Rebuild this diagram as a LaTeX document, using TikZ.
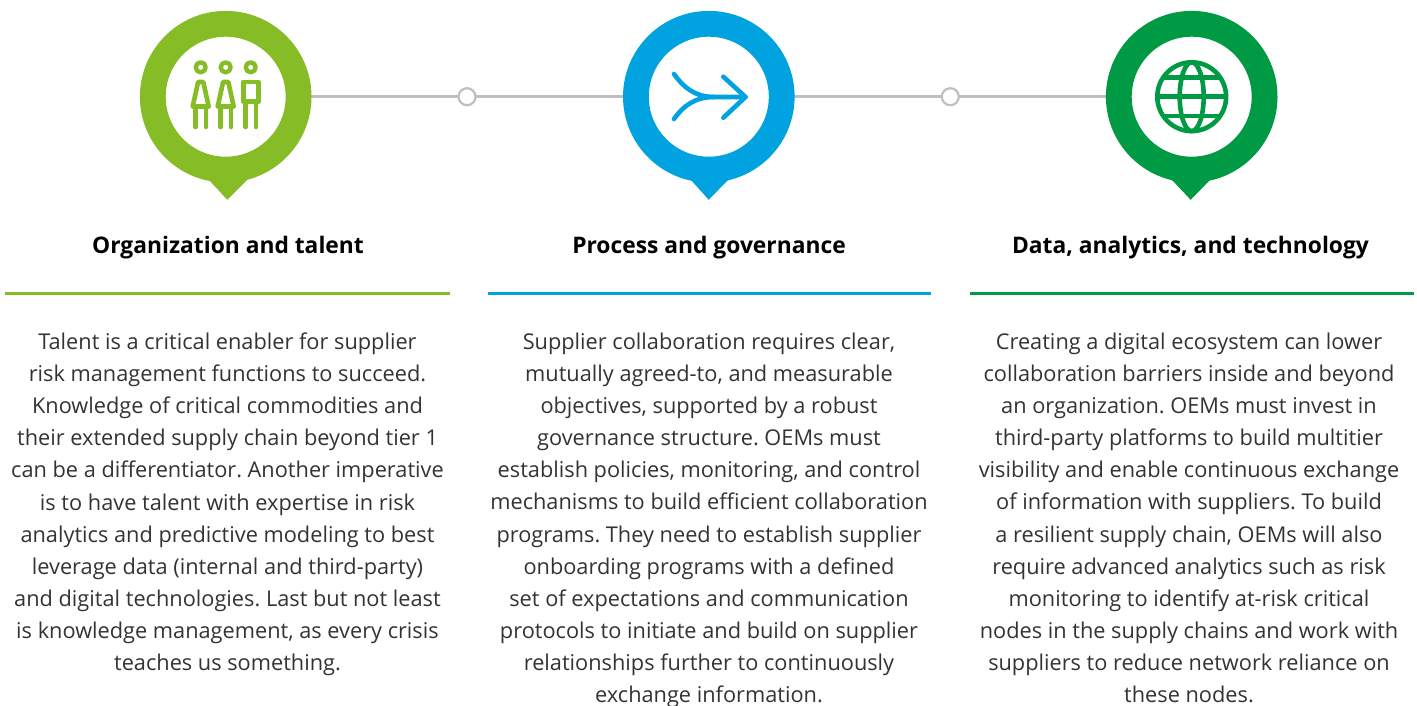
\documentclass[tikz,border=0pt]{standalone}
\usepackage{fontspec}
\setmainfont{Open Sans}
\usetikzlibrary{backgrounds}
\definecolor{cgreen}{HTML}{86BC25}
\definecolor{cblue}{HTML}{00A3E0}
\definecolor{cdark}{HTML}{009A44}
\definecolor{cgray}{HTML}{BFBFBF}
\definecolor{ctext}{HTML}{333333}
\tikzset{
  pin/.style={circle,draw=#1,fill=white,line width=25.8pt,minimum size=145.8pt,inner sep=0pt,outer sep=0pt},
  tip/.style={fill=#1},
  knot/.style={circle,draw=cgray,fill=white,line width=2.2pt,minimum size=17pt,inner sep=0pt,outer sep=0pt},
  link/.style={draw=cgray,line width=3pt},
  head/.style={font=\fontsize{22.8pt}{27pt}\selectfont\bfseries,text=black,anchor=base,inner sep=0pt},
  rulep/.style={line width=3pt,draw=#1},
  body/.style={font=\fontsize{21.75pt}{32.1pt}\selectfont\frenchspacing,text=ctext,align=center,anchor=base,inner sep=0pt},
  icon/.style={draw=#1,line width=4.6pt,line cap=round,line join=round}
}
\begin{document}
\begin{tikzpicture}[x=1pt,y=-1pt]
\useasboundingbox (0,0) rectangle (1417,705);
% pins
\fill[tip=cgreen] (209,180) -- (227.3,199.8) -- (247,180) -- cycle;
\fill[tip=cblue] (691,180) -- (708.7,199.8) -- (728,180) -- cycle;
\fill[tip=cdark] (1172,180) -- (1190.7,199.8) -- (1210,180) -- cycle;
\node[pin=cgreen] (p1) at (225.7,96.7) {};
\node[pin=cblue] (p2) at (708.8,96.7) {};
\node[pin=cdark] (p3) at (1191.7,96.7) {};
\node[knot] (k1) at (467,96.7) {};
\node[knot] (k2) at (950.3,96.7) {};
\begin{pgfonlayer}{background}
\draw[link] (p1) -- (k1);
\draw[link] (k1) -- (p2);
\draw[link] (p2) -- (k2);
\draw[link] (k2) -- (p3);
\end{pgfonlayer}
% people icon
\foreach \dx in {200.7,225.7,250.7} {\draw[icon=cgreen,line width=4.4pt] (\dx,67.3) circle (5);}
\foreach \dx in {200.7,225.7} {
  \draw[icon=cgreen] (\dx-2.6,82) -- (\dx+2.6,82) -- (\dx+8,106.5) -- (\dx-8,106.5) -- cycle;
  \draw[icon=cgreen] (\dx-5,106.5) -- (\dx-5,127) (\dx+5.3,106.5) -- (\dx+5.3,127);
}
\draw[icon=cgreen] (243.2,82) rectangle (258.5,101.5);
\draw[icon=cgreen] (245.7,101.5) -- (245.7,127) (256,101.5) -- (256,127);
% arrow icon
\draw[icon=cblue] (723.3,76.7) -- (745.5,97) -- (723.3,117.7);
\draw[icon=cblue] (674,74) .. controls (683,87) and (695,97) .. (714,97) -- (745.5,97);
\draw[icon=cblue] (674,119) .. controls (683,106) and (695,97) .. (714,97);
% globe icon
\draw[icon=cdark] (1191.7,96.7) circle (34.4);
\draw[icon=cdark] (1191.7,96.7) ellipse (12 and 34.4);
\draw[icon=cdark,line cap=butt] (1157.3,96.7) -- (1226.1,96.7);
\draw[icon=cdark,line cap=butt] (1162.9,77.4) -- (1220.5,77.4);
\draw[icon=cdark,line cap=butt] (1162.9,116) -- (1220.5,116);
% headings
\node[head] (h1) at (228,253) {Organization and talent};
\node[head] (h2) at (709,253) {Process and governance};
\node[head] (h3) at (1190.5,253) {Data, analytics, and technology};
% rules
\draw[rulep=cgreen] (5,293.5) -- (449.5,293.5);
\draw[rulep=cblue] (487.5,293.5) -- (931,293.5);
\draw[rulep=cdark] (970,293.5) -- (1414,293.5);
% body
\node[body] (t1) at (227.5,670.5) {Talent is a critical enabler for supplier\\
risk management functions to succeed.\\
Knowledge of critical commodities and\\
their extended supply chain beyond tier 1\\
can be a differentiator. Another imperative\\
is to have talent with expertise in risk\\
analytics and predictive modeling to best\\
leverage data (internal and third-party)\\
and digital technologies. Last but not least\\
is knowledge management, as every crisis\\
teaches us something.};
\node[body] (t2) at (709,702.5) {Supplier collaboration requires clear,\\
mutually agreed-to, and measurable\\
objectives, supported by a robust\\
governance structure. OEMs must\\
establish policies, monitoring, and control\\
mechanisms to build efficient collaboration\\
programs. They need to establish supplier\\
onboarding programs with a defined\\
set of expectations and communication\\
protocols to initiate and build on supplier\\
relationships further to continuously\\
exchange information.};
\node[body] (t3) at (1189,702.5) {Creating a digital ecosystem can lower\\
collaboration barriers inside and beyond\\
an organization. OEMs must invest in\\
third-party platforms to build multitier\\
visibility and enable continuous exchange\\
of information with suppliers. To build\\
a resilient supply chain, OEMs will also\\
require advanced analytics such as risk\\
monitoring to identify at-risk critical\\
nodes in the supply chains and work with\\
suppliers to reduce network reliance on\\
these nodes.};
\end{tikzpicture}
\end{document}
